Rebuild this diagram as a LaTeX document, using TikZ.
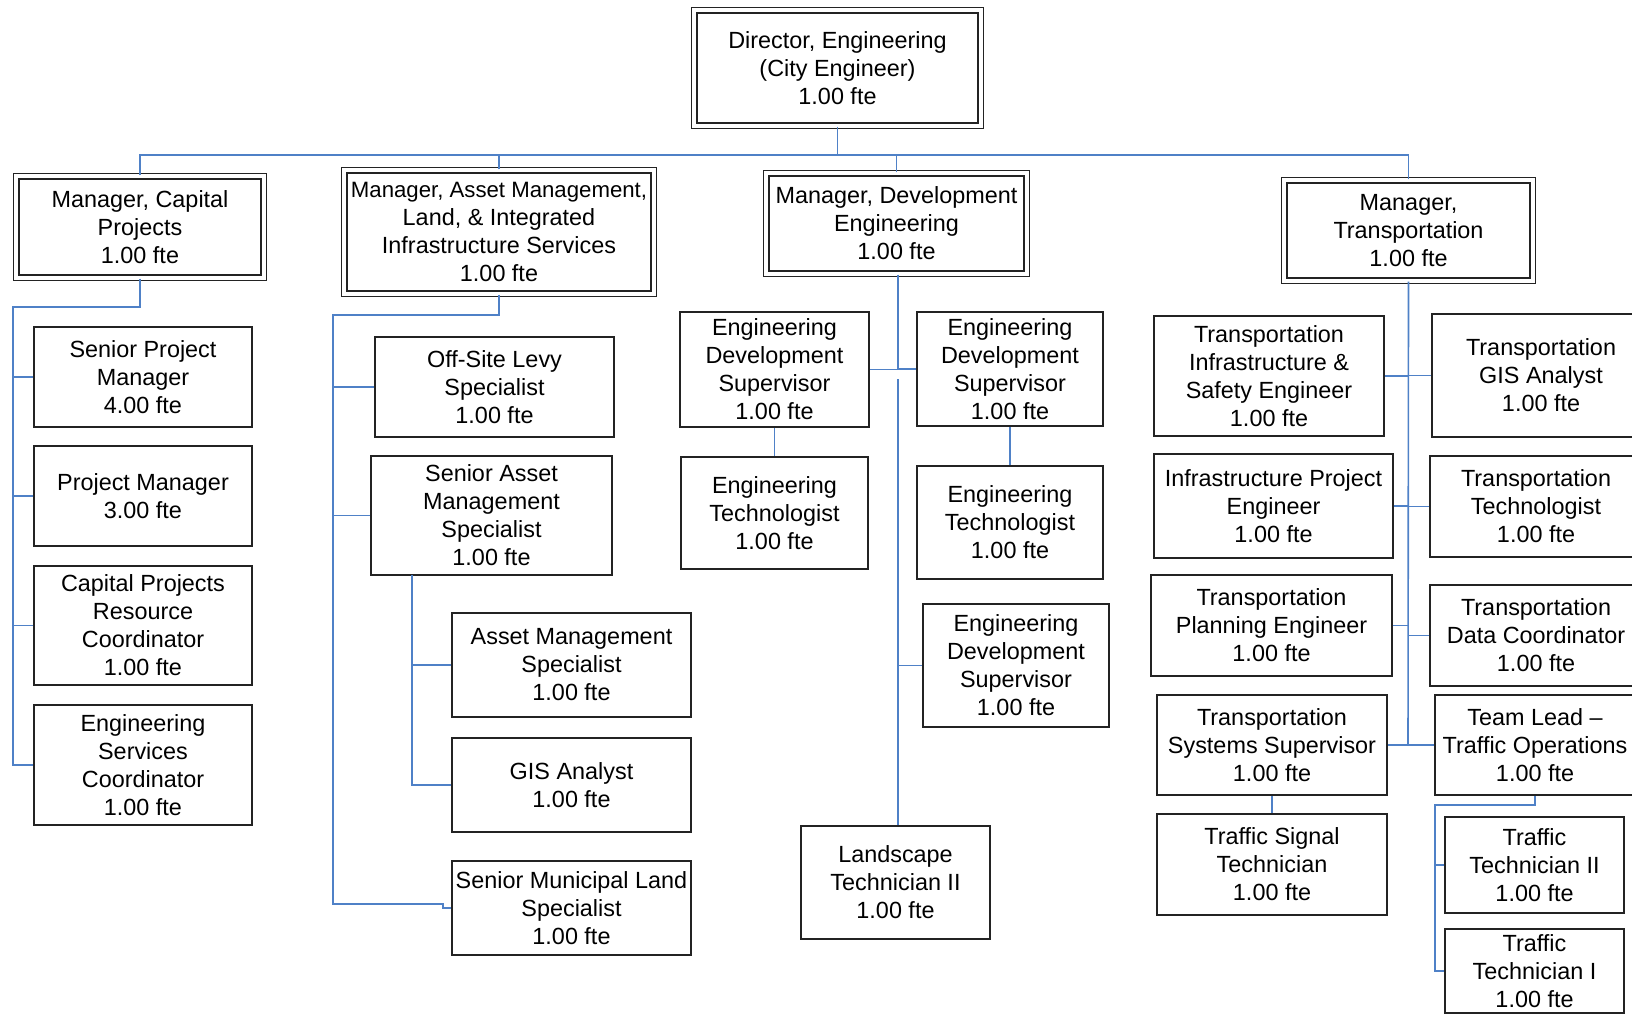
\documentclass[tikz,border=0pt]{standalone}
\usepackage{fontspec}
\setmainfont{Liberation Sans}
\definecolor{connc}{RGB}{79,129,199}
\definecolor{framec}{RGB}{35,35,35}
\tikzset{
  box/.style={draw=framec, line width=1pt, fill=white, rectangle, inner sep=0pt,
    align=center, font=\fontsize{11.7}{14}\selectfont, text=black},
  mgr/.style={box, double=white, double distance=1.8pt, line width=0.9pt},
  link/.style={draw=connc, line width=0.8pt},
}
\begin{document}
\begin{tikzpicture}[x=0.5pt,y=-0.5pt]
\useasboundingbox (0,0) rectangle (1632,1014);

% ---------- managers ----------
\node[mgr, minimum width=143.3pt, minimum height=57.8pt] (dir) at (837.5,68) {Director, Engineering\\(City Engineer)\\1.00 fte};
\node[mgr, minimum width=123.8pt, minimum height=50.8pt] (mcp) at (140,227) {Manager, Capital\\Projects\\1.00 fte};
\node[mgr, minimum width=154.8pt, minimum height=61.8pt] (mam) at (499,232) {{\fontsize{11.1}{14}\selectfont Manager, Asset Management,}\\Land, \& Integrated\\Infrastructure Services\\1.00 fte};
\node[mgr, minimum width=130.3pt, minimum height=50.3pt] (mde) at (896.5,223.5) {Manager, Development\\Engineering\\1.00 fte};
\node[mgr, minimum width=124.3pt, minimum height=50.3pt] (mtr) at (1408.5,230.5) {Manager,\\Transportation\\1.00 fte};

% ---------- capital projects ----------
\node[box, minimum width=109pt, minimum height=50pt] (spm) at (143,377) {Senior Project\\Manager\\4.00 fte};
\node[box, minimum width=109pt, minimum height=50pt] (pm) at (143,496) {Project Manager\\3.00 fte};
\node[box, minimum width=109pt, minimum height=59.5pt] (cprc) at (143,625.5) {Capital Projects\\Resource\\Coordinator\\1.00 fte};
\node[box, minimum width=109pt, minimum height=60pt] (esc) at (143,765) {Engineering\\Services\\Coordinator\\1.00 fte};

% ---------- asset management ----------
\node[box, minimum width=119.5pt, minimum height=50pt] (osl) at (494.5,387) {Off-Site Levy\\Specialist\\1.00 fte};
\node[box, minimum width=120.5pt, minimum height=59.5pt] (sams) at (491.5,515.5) {Senior Asset\\Management\\Specialist\\1.00 fte};
\node[box, minimum width=119.5pt, minimum height=52pt] (ams) at (571.5,665) {Asset Management\\Specialist\\1.00 fte};
\node[box, minimum width=119.5pt, minimum height=47pt] (gis) at (571.5,785) {GIS Analyst\\1.00 fte};
\node[box, minimum width=119.5pt, minimum height=47pt] (smls) at (571.5,908) {Senior Municipal Land\\Specialist\\1.00 fte};

% ---------- development engineering ----------
\node[box, minimum width=94.5pt, minimum height=57.5pt] (eds1) at (774.5,369.5) {Engineering\\Development\\Supervisor\\1.00 fte};
\node[box, minimum width=93pt, minimum height=57pt] (eds2) at (1010,369) {Engineering\\Development\\Supervisor\\1.00 fte};
\node[box, minimum width=93.5pt, minimum height=56pt] (et1) at (774.5,513) {Engineering\\Technologist\\1.00 fte};
\node[box, minimum width=93pt, minimum height=56.5pt] (et2) at (1010,522.5) {Engineering\\Technologist\\1.00 fte};
\node[box, minimum width=93pt, minimum height=61.5pt] (eds3) at (1016,665.5) {Engineering\\Development\\Supervisor\\1.00 fte};
\node[box, minimum width=94.5pt, minimum height=56.5pt] (lt2) at (895.5,882.5) {Landscape\\Technician II\\1.00 fte};

% ---------- transportation ----------
\node[box, minimum width=115pt, minimum height=60pt] (tise) at (1269,376) {Transportation\\Infrastructure \&\\Safety Engineer\\1.00 fte};
\node[box, minimum width=109pt, minimum height=61.5pt] (tgis) at (1541,375.5) {Transportation\\GIS Analyst\\1.00 fte};
\node[box, minimum width=119.5pt, minimum height=52pt] (ipe) at (1273.5,506) {Infrastructure Project\\Engineer\\1.00 fte};
\node[box, minimum width=106pt, minimum height=50.5pt] (tt) at (1536,506.5) {Transportation\\Technologist\\1.00 fte};
\node[box, minimum width=120.5pt, minimum height=50.5pt] (tpe) at (1271.5,625.5) {Transportation\\Planning Engineer\\1.00 fte};
\node[box, minimum width=106pt, minimum height=50.5pt] (tdc) at (1536,635.5) {Transportation\\Data Coordinator\\1.00 fte};
\node[box, minimum width=115pt, minimum height=50pt] (tss) at (1272,745) {Transportation\\Systems Supervisor\\1.00 fte};
\node[box, minimum width=100pt, minimum height=50pt] (tl) at (1535,745) {Team Lead –\\Traffic Operations\\1.00 fte};
\node[box, minimum width=115pt, minimum height=50.5pt] (tst) at (1272,864.5) {Traffic Signal\\Technician\\1.00 fte};
\node[box, minimum width=89.5pt, minimum height=48pt] (tt2) at (1534.5,865) {Traffic\\Technician II\\1.00 fte};
\node[box, minimum width=89.5pt, minimum height=42pt] (tt1) at (1534.5,971) {Traffic\\Technician I\\1.00 fte};

% ---------- connectors ----------
\coordinate (bus) at (837.5,155);
\draw[link] (dir.south) -- (bus);
\draw[link] (mcp.north) |- (bus);
\draw[link] (mam.north) |- (bus);
\draw[link] (mde.north) |- (bus);
\draw[link] (mtr.north) |- (bus);

% capital projects
\coordinate (cpL) at (13,307);
\draw[link] (mcp.south) |- (cpL) |- (esc.west);
\draw[link] (spm.west) -- (spm.west -| cpL);
\draw[link] (pm.west) -- (pm.west -| cpL);
\draw[link] (cprc.west) -- (cprc.west -| cpL);

% asset management
\coordinate (amL) at (333,315);
\coordinate (jog) at (443,904);
\draw[link] (mam.south) |- (amL) -- (amL |- jog) -- (jog) -- (jog |- smls.west) -- (smls.west);
\draw[link] (osl.west) -- (osl.west -| amL);
\draw[link] (sams.west) -- (sams.west -| amL);
\coordinate (saL) at (412,575);
\draw[link] (saL) |- (gis.west);
\draw[link] (ams.west) -- (ams.west -| saL);

% development engineering
\coordinate (dv1) at (898,370);
\coordinate (dv2) at (898,379);
\draw[link] (mde.south -| dv1) -- (dv1);
\draw[link] (eds1.east) -- (eds1.east -| dv1);
\draw[link] (eds2.west) -- (eds2.west -| dv1);
\draw[link] (dv2) |- (eds3.west);
\draw[link] (dv2) -- (dv2 |- lt2.north);
\draw[link] (eds1.south) -- (et1.north);
\draw[link] (eds2.south) -- (et2.north);

% transportation
\coordinate (tv) at (1408,745);
\draw[link] (mtr.south) -- (tv);
\draw[link] (tise.east) -- (tise.east -| tv);
\draw[link] (tgis.west) -- (tgis.west -| tv);
\draw[link] (ipe.east) -- (ipe.east -| tv);
\draw[link] (tt.west) -- (tt.west -| tv);
\draw[link] (tpe.east) -- (tpe.east -| tv);
\draw[link] (tdc.west) -- (tdc.west -| tv);
\draw[link] (tss.east) -- (tl.west);
\draw[link] (tss.south) -- (tst.north);
\coordinate (tlL) at (1435,805);
\draw[link] (tl.south) |- (tlL) |- (tt1.west);
\draw[link] (tt2.west) -- (tt2.west -| tlL);
\end{tikzpicture}
\end{document}
